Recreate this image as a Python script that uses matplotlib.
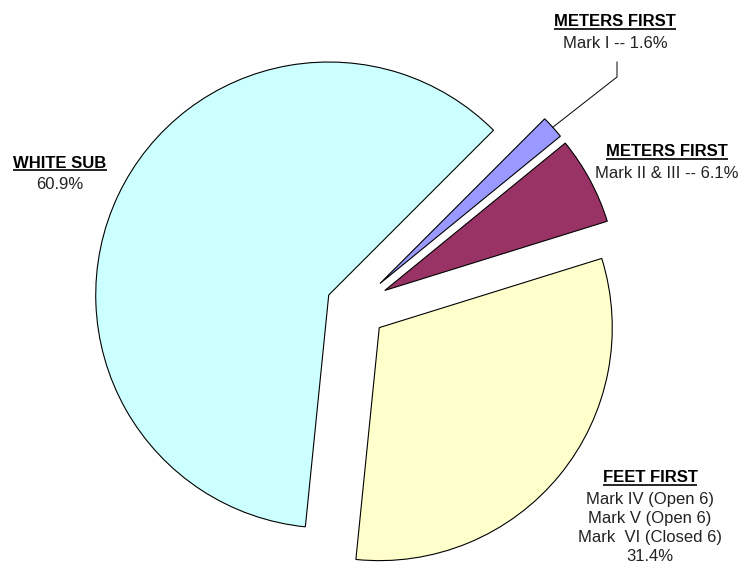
import numpy as np
import matplotlib
matplotlib.use('Agg')
import matplotlib.pyplot as plt

plt.rcParams['font.family'] = ['Liberation Sans', 'DejaVu Sans']

# data (clockwise from the top right)
titles = ['METERS FIRST', 'METERS FIRST', 'FEET FIRST', 'WHITE SUB']
details = ['Mark I', 'Mark II & III',
           'Mark IV (Open 6)\nMark V (Open 6)\nMark  VI (Closed 6)', '']
shares = [1.6, 6.1, 31.4, 60.9]
colors = ['#9999FF', '#993366', '#FFFFCC', '#CCFFFF']
explode = [0.15, 0.15, 0.14, 0.12]

W, H = 746, 579
R = 233
fig = plt.figure(figsize=(W / 100, H / 100), dpi=100)
ax = fig.add_axes([0, 0, 1, 1])

# matplotlib offsets wedges by the raw explode value, so scale by radius
wedges, _ = ax.pie(shares, colors=colors, explode=[e * R for e in explode],
                   startangle=45, counterclock=False, radius=R,
                   center=(354, 272),
                   wedgeprops=dict(edgecolor='black', linewidth=0.8),
                   frame=True)
ax.set_xlim(0, W)
ax.set_ylim(0, H)
ax.set_aspect('equal')
ax.axis('off')

# label anchors (title centre)
lab_pos = [(615, 557), (667, 427), (650, 101), (60, 416)]
body_txt = [details[0] + ' -- %.1f%%' % shares[0],
            details[1] + ' -- %.1f%%' % shares[1],
            details[2] + '\n%.1f%%' % shares[2],
            '%.1f%%' % shares[3]]

heads = []
for i in range(4):
    x, y = lab_pos[i]
    t = ax.text(x, y, titles[i], ha='center', va='center',
                fontsize=12, fontweight='bold', color='black')
    heads.append(t)
    ax.text(x, y - 14, body_txt[i], ha='center', va='top',
            fontsize=12, color='#222222', linespacing=1.33)

# underline the titles
fig.canvas.draw()
r = fig.canvas.get_renderer()
inv = ax.transData.inverted()
for t in heads:
    bb = t.get_window_extent(r)
    (xa, ya), (xb, yb) = inv.transform([[bb.x0, bb.y0], [bb.x1, bb.y1]])
    ax.plot([xa, xb], [ya + 1, ya + 1], color='black', lw=1.2,
            solid_capstyle='butt')

# leader line for the thin slice
w = wedges[0]
ang = np.deg2rad((w.theta1 + w.theta2) / 2)
x0 = w.center[0] + w.r * np.cos(ang)
y0 = w.center[1] + w.r * np.sin(ang)
ax.plot([x0, 617, 617], [y0, 502, 517], color='black', lw=0.7)

plt.savefig('out.png', dpi=100)
